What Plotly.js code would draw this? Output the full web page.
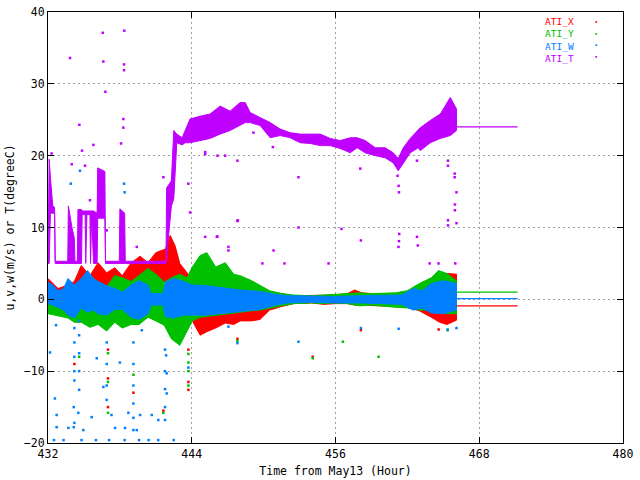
<!DOCTYPE html>
<html>
<head>
<meta charset="utf-8">
<script src="https://cdn.plot.ly/plotly-3.0.1.min.js"></script>
<style>
  html, body { margin: 0; padding: 0; background: #fff; }
  #chart { width: 640px; height: 480px; }
</style>
</head>
<body>
<div id="chart"></div>
<script>
// envelope of each record (hour, upper, lower)
const xHours = [432.0, 432.84, 433.67, 434.2, 434.78, 435.5, 436.18, 436.9, 437.57, 438.2, 438.96, 439.69, 440.35, 441.0, 441.8, 442.2, 442.6, 443.0, 443.7, 444.05, 444.7, 445.26, 446.0, 446.8, 447.5, 448.04, 449.0, 449.7, 450.5, 451.5, 452.5, 454.0, 455.0, 456.0, 457.0, 457.6, 458.2, 459.0, 460.0, 461.0, 462.0, 463.0, 464.0, 464.7, 465.3, 466.1];
const xHi = [2.9, 1.5, 2.0, 2.5, 4.7, 3.3, 5.1, 3.7, 4.4, 3.3, 5.1, 6.0, 5.1, 6.5, 7.0, 8.9, 7.5, 5.0, 3.5, 2.5, 2.5, 2.5, 2.0, 2.0, 1.5, 1.4, 1.2, 1.1, 1.0, 0.8, 0.5, 0.5, 0.6, 0.6, 0.8, 1.3, 0.9, 0.8, 0.8, 0.8, 0.8, 1.0, 1.8, 2.0, 3.6, 3.5];
const xLo = [-1.0, -1.2, -2.5, -2.6, -1.5, -1.8, -2.0, -2.2, -1.5, -1.5, -2.0, -2.0, -2.0, -2.0, -2.0, -2.0, -2.0, -2.0, -2.5, -3.0, -5.0, -4.5, -4.0, -3.3, -3.5, -3.0, -3.0, -2.8, -1.5, -1.0, -0.6, -0.5, -0.7, -0.6, -0.6, -0.8, -0.8, -0.8, -0.9, -1.0, -1.1, -1.6, -2.5, -3.2, -3.5, -2.9];

const yHours = [432.0, 432.84, 433.67, 434.2, 434.78, 435.5, 436.18, 436.9, 437.57, 438.2, 438.96, 439.6, 440.35, 441.0, 441.7, 442.3, 443.0, 443.6, 444.05, 444.7, 445.26, 446.0, 446.8, 447.5, 448.04, 449.0, 449.7, 450.5, 451.5, 452.5, 454.0, 455.0, 456.0, 457.0, 458.0, 459.0, 460.0, 461.0, 462.0, 463.0, 464.0, 464.6, 465.3, 466.1];
const yHi = [0.8, 0.5, 0.5, 0.8, 1.0, 1.2, 1.5, 1.8, 3.3, 3.0, 2.5, 3.3, 4.3, 3.5, 2.4, 3.0, 3.5, 3.0, 4.5, 6.1, 6.5, 4.5, 5.1, 3.5, 3.3, 2.6, 2.0, 1.2, 0.8, 0.6, 0.5, 0.6, 0.6, 0.7, 0.9, 0.8, 0.8, 0.9, 1.2, 2.2, 3.0, 4.0, 3.6, 2.6];
const yLo = [-2.0, -2.3, -2.6, -3.2, -3.2, -3.9, -3.5, -4.4, -3.2, -4.0, -3.5, -3.5, -2.5, -3.0, -3.6, -5.5, -6.4, -4.5, -3.0, -2.5, -2.4, -2.2, -2.0, -1.9, -1.8, -1.6, -1.5, -1.2, -0.9, -0.6, -0.5, -0.6, -0.5, -0.6, -0.9, -0.8, -1.0, -1.1, -1.2, -1.5, -1.5, -1.8, -2.0, -2.0];

const wHours = [432.0, 432.4, 432.84, 433.3, 433.67, 434.2, 434.78, 435.3, 435.8, 436.18, 436.9, 437.57, 438.2, 438.96, 439.6, 440.35, 440.6, 441.6, 441.8, 442.5, 443.3, 444.05, 445.26, 446.5, 448.04, 449.7, 451.0, 452.0, 454.0, 456.0, 458.0, 460.0, 461.5, 462.5, 463.2, 464.0, 465.0, 466.1];
const wHi = [2.4, 2.0, 1.2, 1.5, 2.9, 2.0, 2.9, 4.0, 2.9, 2.5, 1.9, 1.5, 1.0, 2.0, 2.6, 2.0, 0.8, 0.8, 2.4, 2.9, 2.5, 2.0, 1.9, 1.6, 1.3, 1.1, 0.7, 0.5, 0.4, 0.4, 0.5, 0.5, 0.6, 1.5, 1.2, 2.2, 2.6, 2.2];
const wLo = [-0.6, -0.8, -1.1, -1.5, -2.2, -2.6, -1.2, -1.8, -1.5, -2.0, -2.2, -1.4, -1.4, -2.5, -2.8, -2.0, -0.8, -0.8, -2.4, -2.6, -2.2, -2.2, -2.2, -2.0, -1.7, -1.4, -0.8, -0.5, -0.4, -0.5, -0.5, -0.6, -0.7, -1.5, -1.2, -1.9, -2.0, -1.5];

const tHours = [432.0, 432.1, 432.2, 432.4, 432.55, 432.6, 433.65, 433.7, 434.0, 434.2, 434.25, 434.45, 434.5, 434.8, 434.85, 435.1, 435.15, 435.25, 435.5, 435.55, 435.65, 435.8, 436.1, 436.15, 436.75, 436.8, 437.95, 438.0, 438.4, 438.45, 441.85, 441.9, 442.3, 442.5, 442.75, 443.2, 443.45, 443.86, 444.7, 445.53, 446.37, 447.2, 448.04, 448.46, 448.88, 449.71, 450.55, 451.38, 452.22, 453.05, 453.89, 454.72, 455.56, 456.39, 457.23, 457.81, 458.48, 459.32, 460.15, 460.82, 461.24, 461.66, 462.24, 462.91, 463.08, 463.91, 464.75, 465.58, 466.1];
const tHi = [5.3, 19.5, 17.0, 13.0, 12.8, 5.3, 5.3, 13.0, 10.0, 8.5, 5.3, 5.3, 12.5, 12.5, 12.3, 12.3, 12.3, 12.3, 12.3, 12.3, 12.3, 12.3, 12.0, 18.3, 17.8, 5.3, 5.3, 12.6, 12.0, 5.3, 5.3, 15.5, 16.5, 23.5, 23.0, 22.5, 23.5, 25.1, 25.5, 25.8, 26.9, 26.2, 27.4, 27.4, 26.0, 25.3, 24.6, 23.7, 23.2, 23.0, 23.0, 23.0, 22.4, 22.1, 22.5, 22.5, 22.1, 21.1, 21.1, 20.4, 19.6, 21.1, 22.4, 23.5, 23.9, 24.9, 25.8, 28.1, 26.5];
const tLo = [5.0, 5.0, 12.0, 12.0, 12.0, 5.0, 5.0, 5.0, 5.0, 5.0, 5.0, 5.0, 5.0, 5.0, 11.8, 11.8, 5.0, 11.8, 11.8, 5.0, 11.8, 5.0, 5.0, 11.3, 11.3, 5.0, 5.0, 5.0, 5.0, 5.0, 5.0, 5.0, 13.0, 14.0, 21.8, 21.5, 21.8, 21.8, 22.1, 22.4, 23.0, 23.5, 24.2, 24.6, 24.6, 24.2, 22.5, 22.8, 22.5, 21.8, 21.7, 21.4, 21.4, 21.0, 20.4, 21.1, 20.4, 20.0, 19.7, 19.0, 17.9, 19.0, 20.4, 21.1, 20.7, 21.8, 22.4, 22.8, 23.5];

// flat tail after the record stops
const tailHours = [466.1, 471.2];
const tailX = [-0.9, -0.9];
const tailY = [1.0, 1.0];
const tailW = [0.1, 0.1];
const tailT = [24.0, 24.0];

// stray points
const tOutH = [433.84, 436.57, 438.37, 436.62, 438.35, 438.35, 436.79, 434.62, 435.79, 434.84, 438.29, 438.29, 438.1, 432.3, 433.98, 435.09, 435.5, 436.9, 439.41, 441.63, 443.72, 443.86, 447.06, 446.09, 445.12, 446.79, 447.85, 445.12, 446.15, 447.06, 450.83, 449.9, 451.74, 455.42, 447.81, 452.91, 456.5, 458.12, 461.18, 461.27, 461.3, 462.8, 462.8, 461.32, 461.3, 461.26, 462.87, 465.39, 465.39, 465.95, 465.95, 466.1, 465.97, 465.97, 466.1, 465.39, 465.39, 463.86, 464.6, 466.0, 452.91, 458.07, 450.77, 449.15, 447.81, 446.15, 445.12];
const tOutV = [33.6, 37.1, 37.4, 33.1, 32.7, 31.9, 28.9, 24.3, 21.5, 20.7, 25.1, 23.9, 21.7, 20.3, 18.8, 18.6, 13.8, 9.6, 7.3, 17.0, 16.1, 12.1, 7.3, 8.7, 20.2, 20.0, 11.0, 8.7, 8.75, 6.8, 6.8, 5.0, 5.0, 5.0, 10.9, 10.0, 9.8, 8.2, 17.2, 15.8, 14.9, 19.3, 8.7, 9.1, 8.1, 7.3, 7.5, 19.3, 18.6, 17.5, 17.0, 14.9, 13.2, 12.4, 10.6, 11.0, 10.3, 5.0, 5.0, 5.0, 17.0, 18.2, 21.2, 23.2, 19.3, 20.0, 20.5];

const wOutH = [434.2, 434.2, 434.2, 434.2, 434.2, 434.2, 434.15, 434.15, 434.6, 434.6, 434.6, 434.6, 434.6, 439.13, 439.13, 439.13, 439.13, 439.13, 439.13, 441.77, 441.77, 441.77, 441.77, 441.77, 436.9, 436.9, 436.9, 436.9, 432.67, 432.17, 432.58, 432.72, 432.72, 433.7, 434.53, 434.95, 435.65, 436.07, 436.62, 437.3, 437.6, 438.0, 438.43, 438.71, 439.41, 439.69, 439.83, 440.66, 441.21, 441.91, 441.91, 432.5, 433.3, 434.8, 436.0, 437.1, 438.4, 439.6, 440.4, 441.2, 442.5, 443.72, 447.06, 447.81, 452.91, 458.12, 441.86, 461.27, 465.36, 466.1, 434.67, 433.9, 438.35, 438.4];
const wOutV = [-4.0, -6.0, -8.0, -10.0, -11.3, -17.2, -15.0, -17.8, -3.0, -5.0, -7.5, -10.0, -12.6, -6.0, -9.0, -12.0, -14.5, -16.5, -18.2, -7.0, -10.0, -12.5, -15.0, -16.8, -6.0, -9.0, -12.0, -14.0, -3.6, -7.4, -13.8, -16.1, -17.8, -17.9, -15.8, -18.2, -16.4, -8.2, -12.2, -16.1, -17.9, -8.8, -17.9, -15.8, -18.2, -16.1, -4.3, -16.1, -16.8, -13.1, -10.3, -19.6, -19.6, -19.6, -19.6, -19.6, -19.6, -19.6, -19.6, -19.6, -19.6, -9.5, -3.8, -6.1, -5.9, -4.0, -7.8, -4.1, -4.2, -4.0, 17.9, 16.1, 16.1, 14.9];

const xOutH = [437.01, 437.01, 437.01, 443.72, 443.72, 441.63, 447.81, 454.1, 458.12, 464.61, 434.2, 439.13, 443.72];
const xOutV = [-7.0, -11.0, -15.0, -7.0, -11.5, -15.5, -5.5, -8.0, -4.3, -4.2, -9.0, -13.0, -12.6];

const yOutH = [437.01, 437.01, 437.01, 443.72, 443.72, 443.72, 441.63, 447.81, 454.1, 459.6, 456.62, 465.36, 434.6, 439.13, 443.72];
const yOutV = [-7.5, -11.5, -15.8, -7.6, -10.0, -12.0, -15.8, -5.8, -8.2, -8.0, -5.9, -4.3, -8.0, -10.5, -8.8];

const names = ['ATI_X', 'ATI_Y', 'ATI_W', 'ATI_T'];
const colors = ['#ff0000', '#00c000', '#0080ff', '#c000ff'];

function band(h, hi, lo, color) {
  return {
    x: h.concat(h.slice().reverse()),
    y: hi.concat(lo.slice().reverse()),
    type: 'scatter', mode: 'lines', fill: 'toself',
    fillcolor: color, line: {color: color, width: 1},
    hoverinfo: 'skip', showlegend: false
  };
}
function tail(v, color) {
  return {x: tailHours, y: v, type: 'scatter', mode: 'lines',
    line: {color: color, width: 1.2}, hoverinfo: 'skip', showlegend: false};
}
function dots(h, v, color) {
  return {x: h, y: v, type: 'scatter', mode: 'markers',
    marker: {color: color, size: 2.5, symbol: 'square'}, hoverinfo: 'skip', showlegend: false};
}

const traces = [
  band(xHours, xHi, xLo, colors[0]),
  band(yHours, yHi, yLo, colors[1]),
  band(wHours, wHi, wLo, colors[2]),
  band(tHours, tHi, tLo, colors[3]),
  tail(tailX, colors[0]), tail(tailY, colors[1]), tail(tailW, colors[2]), tail(tailT, colors[3]),
  dots(xOutH, xOutV, colors[0]),
  dots(yOutH, yOutV, colors[1]),
  dots(wOutH, wOutV, colors[2]),
  dots(tOutH, tOutV, colors[3])
];

const font = {family: 'DejaVu Sans Mono, monospace', size: 11.5, color: '#000'};
const legY = [0.977, 0.949, 0.923, 0.896];

const axisBase = {
  ticks: 'inside', ticklen: 6, tickcolor: '#000',
  showline: true, linecolor: '#000', linewidth: 1, mirror: 'ticks',
  showgrid: true, gridcolor: '#a0a0a0', griddash: '2px,3px', gridwidth: 1,
  zeroline: false, tickfont: font, automargin: false
};

const legendText = names.map((n, i) =>
  '<span style="color:' + colors[i] + '">' + n + '</span>').join('<br>');

const layout = {
  width: 640, height: 480,
  margin: {l: 48, r: 17, t: 12, b: 37},
  paper_bgcolor: '#fff', plot_bgcolor: '#fff',
  font: font,
  showlegend: false,
  xaxis: Object.assign({}, axisBase, {
    range: [432, 480], tickmode: 'array',
    tickvals: [432, 444, 456, 468, 480],
    title: {text: 'Time from May13 (Hour)', font: font, standoff: 7}
  }),
  yaxis: Object.assign({}, axisBase, {
    range: [-20, 40], tickmode: 'array',
    tickvals: [-20, -10, 0, 10, 20, 30, 40],
    title: {text: 'u,v,w(m/s) or T(degreeC)', font: font, standoff: 6}
  }),
  annotations: [{
    xref: 'paper', yref: 'paper', x: 0.9165, y: 0.936,
    xanchor: 'right', yanchor: 'middle', align: 'right', showarrow: false,
    borderpad: 0, text: legendText,
    font: {family: font.family, size: 9.5}
  }],
  shapes: names.map((n, i) => ({
    type: 'rect', xref: 'paper', yref: 'paper',
    x0: 0.952, x1: 0.955, y0: legY[i] - 0.002, y1: legY[i] + 0.002,
    fillcolor: colors[i], line: {width: 0}
  }))
};

Plotly.newPlot('chart', traces, layout, {staticPlot: true});
</script>
</body>
</html>
